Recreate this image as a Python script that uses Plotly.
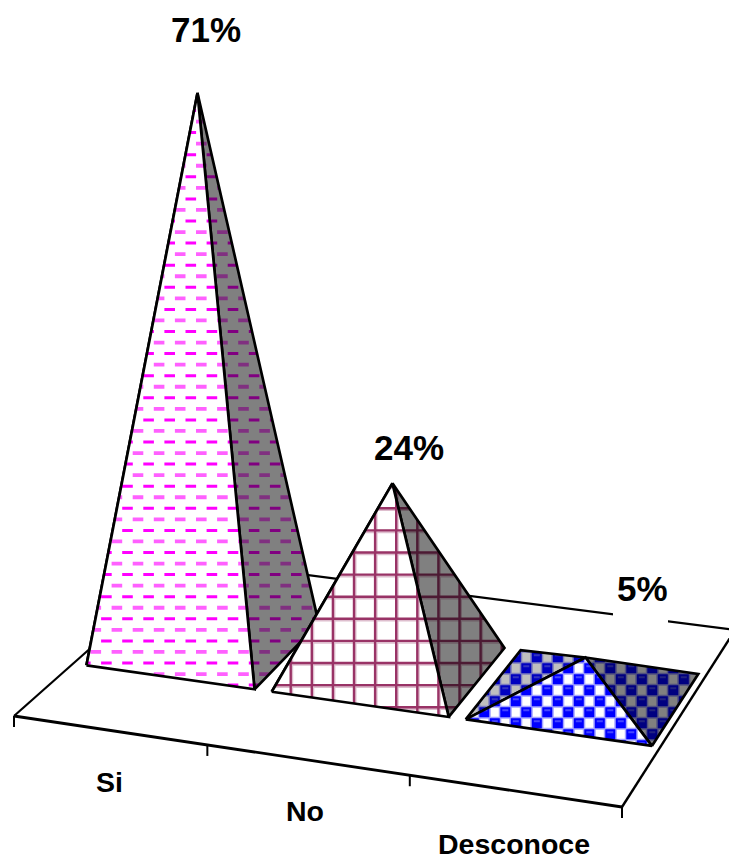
import plotly.graph_objects as go

# Survey answers, in percent
categories = ["Si", "No", "Desconoce"]
values = [71, 24, 5]
value_labels = ["71%", "24%", "5%"]
label_offsets = [(9, -63.5), (17, -35.5), (57, -69.5)]
category_label_positions = [(109, 782), (305, 811), (514, 844)]

WIDTH, HEIGHT = 729, 860
INK = "#000000"

# Floor plane: pixel corners (front-left, front-right, back-right, back-left)
FLOOR = [(14, 716), (622, 807), (735, 630), (190, 560)]
FOOT_LEFT = [0.072, 0.06, 0.05]    # footprint start inside each category slot
FOOT_RIGHT = [0.97, 0.965, 0.96]   # footprint end inside each category slot
T_SPAN = (0.31, 0.72)              # footprint depth on the floor
PX_PER_PERCENT = 7.76
LEAN = 1.396e-4
LEAN_X0 = 294
TICK_LEN = 11
EDGE = 2.7


def floor_homography(c):
    (x0, y0), (x1, y1), (x2, y2), (x3, y3) = c
    dx1, dx2, sx = x1 - x2, x3 - x2, x0 - x1 + x2 - x3
    dy1, dy2, sy = y1 - y2, y3 - y2, y0 - y1 + y2 - y3
    den = dx1 * dy2 - dx2 * dy1
    g = (sx * dy2 - dx2 * sy) / den
    h = (dx1 * sy - sx * dy1) / den
    a, b = x1 - x0 + g * x1, x3 - x0 + h * x3
    d, e = y1 - y0 + g * y1, y3 - y0 + h * y3
    return a, b, x0, d, e, y0, g, h


HOMO = floor_homography(FLOOR)


def on_floor(u, t):
    """Project a category position u (0..n) and depth t (0..1) to pixels."""
    a, b, c, d, e, f, g, h = HOMO
    s = u / len(categories)
    w = g * s + h * t + 1
    return (a * s + b * t + c) / w, (d * s + e * t + f) / w


def clip_convex(poly, hull):
    area = sum(hull[i][0] * hull[(i + 1) % len(hull)][1] - hull[(i + 1) % len(hull)][0] * hull[i][1]
               for i in range(len(hull)))
    sign = 1 if area > 0 else -1
    out = list(poly)
    for i in range(len(hull)):
        ax, ay = hull[i]
        bx, by = hull[(i + 1) % len(hull)]
        side = lambda p: sign * ((bx - ax) * (p[1] - ay) - (by - ay) * (p[0] - ax))
        src, out = out, []
        for j in range(len(src)):
            p, q = src[j], src[(j + 1) % len(src)]
            sp, sq = side(p), side(q)
            if sp >= 0:
                out.append(p)
            if sp * sq < 0:
                r = sp / (sp - sq)
                out.append((p[0] + (q[0] - p[0]) * r, p[1] + (q[1] - p[1]) * r))
        if not out:
            return []
    return out


def rect(cx, cy, w, h):
    return [(cx - w / 2, cy - h / 2), (cx + w / 2, cy - h / 2),
            (cx + w / 2, cy + h / 2), (cx - w / 2, cy + h / 2)]


# Fill textures: each returns [(rgb, [rectangles])], painted in order
def dash_texture():
    crisp, soft = [], []
    for row in range(-40, 30):
        y = 508.3 + 11.05 * row
        start = 127.5 if row % 2 == 0 else 138
        for k in range(-8, 30):
            if row % 2 == 0:
                crisp.append(rect(start + 21.1 * k, y, 10.6, 3))
            else:
                soft.append(rect(start + 21.1 * k, y, 10.6, 3.8))
    return [((255, 0, 255), crisp), ((255, 96, 255), soft)]


def grid_texture():
    pale, solid = [], []
    for k in range(-3, 14):
        x = 290.7 + 21.1 * k
        pale.append(rect(x + 1.5, 600, 2, 400))
        solid.append(rect(x, 600, 2.4, 400))
    for k in range(-3, 14):
        y = 508.3 + 22.1 * k
        pale.append(rect(380, y + 1.8, 400, 2))
        solid.append(rect(380, y, 400, 2.4))
    return [((222, 190, 206), pale), ((153, 51, 102), solid)]


def check_texture():
    halo, solid, specks = [], [], []
    for row in range(-6, 14):
        y = 690.3 + 11 * row
        offset = 0 if row % 2 == 0 else 10.5
        for k in range(-8, 14):
            x = 547.3 + offset + 21 * k
            halo.append(rect(x, y, 13, 13))
            solid.append(rect(x, y, 10, 10))
            specks.append(rect(x + 10.5, y + 9, 6, 2))
    return [((165, 165, 255), halo), ((0, 0, 255), solid), ((70, 70, 255), specks)]


textures = [dash_texture(), grid_texture(), check_texture()]

fig = go.Figure()


def add_floor_line(p, q, width=2.4):
    fig.add_trace(go.Scatter(x=[p[0], q[0]], y=[p[1], q[1]], mode="lines",
                             line=dict(color=INK, width=width), hoverinfo="skip"))


def add_face(points, shade, texture):
    base = round(255 * shade)
    xs = [p[0] for p in points] + [points[0][0]]
    ys = [p[1] for p in points] + [points[0][1]]
    fig.add_trace(go.Scatter(x=xs, y=ys, mode="none", fill="toself",
                             fillcolor=f"rgb({base},{base},{base})", hoverinfo="skip"))
    for rgb, rects in texture:
        px, py = [], []
        for r in rects:
            piece = clip_convex(r, points)
            if len(piece) < 3:
                continue
            px += [p[0] for p in piece] + [piece[0][0], None]
            py += [p[1] for p in piece] + [piece[0][1], None]
        r_, g_, b_ = (round(v * shade) for v in rgb)
        fig.add_trace(go.Scatter(x=px, y=py, mode="none", fill="toself",
                                 fillcolor=f"rgb({r_},{g_},{b_})", hoverinfo="skip"))
    fig.add_trace(go.Scatter(x=xs, y=ys, mode="lines", line=dict(color=INK, width=EDGE),
                             hoverinfo="skip"))


# Floor outline and category ticks
add_floor_line(FLOOR[3], FLOOR[2], 2.2)
add_floor_line(FLOOR[2], FLOOR[1], 2.4)
add_floor_line(FLOOR[0], FLOOR[3], 2.2)
add_floor_line(FLOOR[0], FLOOR[1], 2.8)
for i in range(len(categories) + 1):
    tx, ty = on_floor(i, 0)
    add_floor_line((tx, ty), (tx, ty + TICK_LEN), 2)

# Pyramids, back to front along the category axis
apexes = []
for i, value in enumerate(values):
    fl = on_floor(i + FOOT_LEFT[i], T_SPAN[0])
    fr = on_floor(i + FOOT_RIGHT[i], T_SPAN[0])
    br = on_floor(i + FOOT_RIGHT[i], T_SPAN[1])
    bl = on_floor(i + FOOT_LEFT[i], T_SPAN[1])
    cx, cy = on_floor(i + (FOOT_LEFT[i] + FOOT_RIGHT[i]) / 2, sum(T_SPAN) / 2)
    rise = value * PX_PER_PERCENT
    apex = (cx + LEAN * (cx - LEAN_X0) * rise, cy - rise)
    apexes.append(apex)
    add_face([fl, bl, apex], 0.75, textures[i])
    add_face([fr, br, apex], 0.5, textures[i])
    add_face([fl, fr, apex], 1.0, textures[i])

annotations = []
for apex, text, (dx, dy) in zip(apexes, value_labels, label_offsets):
    annotations.append(dict(x=apex[0] + dx, y=apex[1] + dy, text=f"<b>{text}</b>", showarrow=False,
                            xanchor="center", yanchor="middle",
                            font=dict(family="Liberation Sans", size=35, color=INK)))
for name, (x, y) in zip(categories, category_label_positions):
    annotations.append(dict(x=x, y=y, text=f"<b>{name}</b>", showarrow=False,
                            xanchor="center", yanchor="middle",
                            font=dict(family="Liberation Sans", size=28.5, color=INK)))

fig.update_layout(
    width=WIDTH, height=HEIGHT, margin=dict(l=0, r=0, t=0, b=0),
    paper_bgcolor="white", plot_bgcolor="white", showlegend=False,
    xaxis=dict(range=[0, WIDTH], visible=False, fixedrange=True),
    yaxis=dict(range=[HEIGHT, 0], visible=False, fixedrange=True),
    annotations=annotations,
    # White plate behind the smallest value label, interrupting the floor's back edge
    shapes=[dict(type="rect", xref="x", yref="y", x0=613, x1=668, y0=566, y1=627,
                 fillcolor="white", line=dict(width=0), layer="above")],
)

fig.write_html("out.html", config=dict(displayModeBar=False))
